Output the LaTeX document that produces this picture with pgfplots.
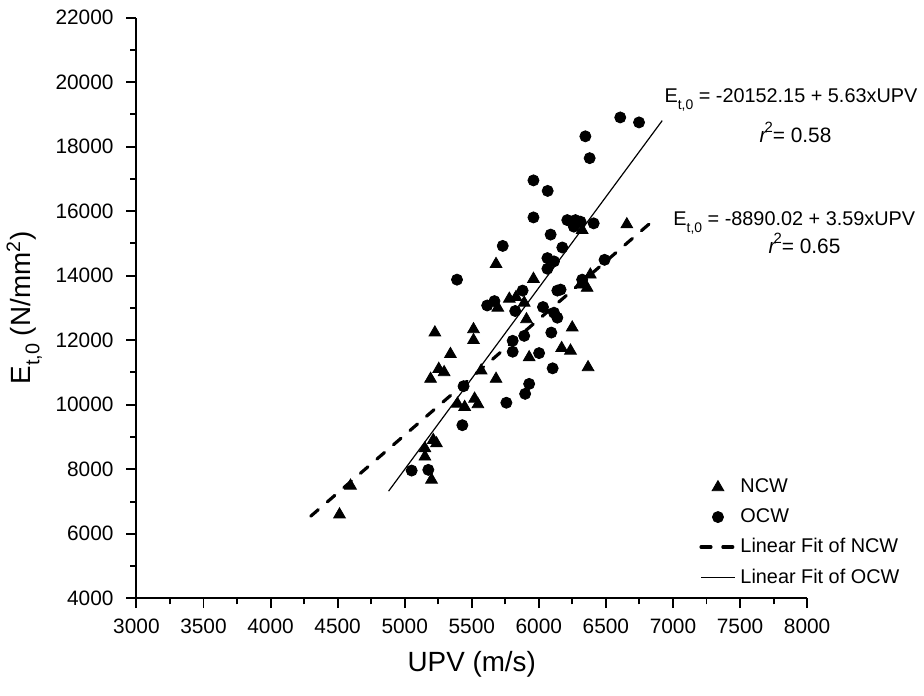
\documentclass[border=0pt]{standalone}
\usepackage{fontspec}
\setmainfont{Liberation Sans}
\usepackage{pgfplots}
\pgfplotsset{compat=1.18}

\begin{document}
\begin{tikzpicture}
\begin{axis}[
  scale only axis,
  width=337.8pt, height=292.5pt,
  xmin=3000, xmax=8000, ymin=4000, ymax=22000,
  axis lines*=left,
  clip=false,
  scaled ticks=false,
  xtick={3000,3500,...,8000},
  ytick={4000,6000,...,22000},
  minor x tick num=1, minor y tick num=1,
  tick align=outside,
  major tick length=5pt, minor tick length=3pt,
  axis line style={line width=1pt},
  every tick/.style={black, line width=1pt},
  /pgf/number format/assume math mode=true,
  /pgf/number format/1000 sep={},
  ticklabel style={font=\fontsize{10.5}{12}\selectfont},
  yticklabel style={xshift=-3pt},
  xticklabel style={yshift=-2pt},
  xlabel={UPV (m/s)},
  ylabel={E\raisebox{-0.6ex}{\fontsize{10}{11}\selectfont t,0} (N/mm\textsuperscript{2})},
  label style={font=\fontsize{14}{16}\selectfont},
  xlabel style={yshift=-2pt},
  legend style={draw=none, fill=none, at={(rel axis cs:0.83,0.22)}, anchor=north west,
    font=\fontsize{10}{12}\selectfont, row sep=2.5pt},
  legend cell align=left,
]
\addplot[only marks, mark=triangle*, mark size=3.4pt, black] coordinates {
(4514,6597) (4596,7489) (5200,7674) (5151,8390) (5151,8646) (5213,8905)
(5237,8800) (5393,10031) (5447,9929) (5521,10185) (5546,10012) (5193,10800)
(5254,11108) (5294,11006) (5341,11569) (5570,11058) (5681,10800) (5225,12237)
(5513,12338) (5513,12000) (5681,14360) (5694,13006) (5780,13283) (5830,13335)
(5891,13160) (5908,12646) (5928,11468) (5960,13898) (6170,11754) (6236,11674)
(6249,12391) (6367,11160) (6298,15622) (6323,15415) (6311,13723) (6360,13622)
(6384,14031) (6656,15590)
};
\addlegendentry{NCW}
\addplot[only marks, mark=*, mark size=2.8pt, black] coordinates {
(5052,7960) (5176,7982) (5430,9366) (5439,10575) (5758,10062) (5898,10338)
(5928,10646) (6103,11129) (5805,11643) (5805,11982) (5891,12135) (6002,11600)
(6093,12237) (6113,12852) (6138,12698) (5824,12905) (6031,13028) (5615,13077)
(5669,13212) (5879,13538) (6138,13538) (6162,13569) (5390,13877) (6323,13877)
(6064,14545) (6113,14443) (6064,14215) (6490,14492) (5731,14923) (6175,14874)
(6088,15274) (5960,15806) (6212,15723) (6261,15520) (6273,15723) (6311,15674)
(6409,15622) (6066,16628) (5960,16954) (6379,17643) (6347,18320) (6607,18905)
(6747,18751)
};
\addlegendentry{OCW}
\addplot[black, line width=1.6pt, line cap=round, dash pattern=on 5pt off 6pt] coordinates {(4300,6547) (6860,15737)};
\addlegendentry{Linear Fit of NCW}
\addplot[black, line width=0.6pt] coordinates {(4880,7322) (6920,18807)};
\addlegendentry{Linear Fit of OCW}

\node[anchor=base, font=\fontsize{10}{12}\selectfont] at (axis cs:7880,19366)
  {E\raisebox{-0.7ex}{\fontsize{7}{8}\selectfont t,0} = -20152.15 + 5.63xUPV};
\node[anchor=base, font=\fontsize{10.5}{12}\selectfont] at (axis cs:7914,18135)
  {\itshape r\kern-0.1em\raisebox{0.9ex}{\upshape\fontsize{7.5}{8}\selectfont 2}\upshape= 0.58};
\node[anchor=base, font=\fontsize{10}{12}\selectfont] at (axis cs:7905,15569)
  {E\raisebox{-0.7ex}{\fontsize{7}{8}\selectfont t,0} = -8890.02 + 3.59xUPV};
\node[anchor=base, font=\fontsize{10.5}{12}\selectfont] at (axis cs:7981,14698)
  {\itshape r\kern-0.1em\raisebox{0.9ex}{\upshape\fontsize{7.5}{8}\selectfont 2}\upshape= 0.65};

\path (rel axis cs:-0.1964,-0.168) rectangle (rel axis cs:1.1713,1.0303);
\end{axis}
\end{tikzpicture}
\end{document}
